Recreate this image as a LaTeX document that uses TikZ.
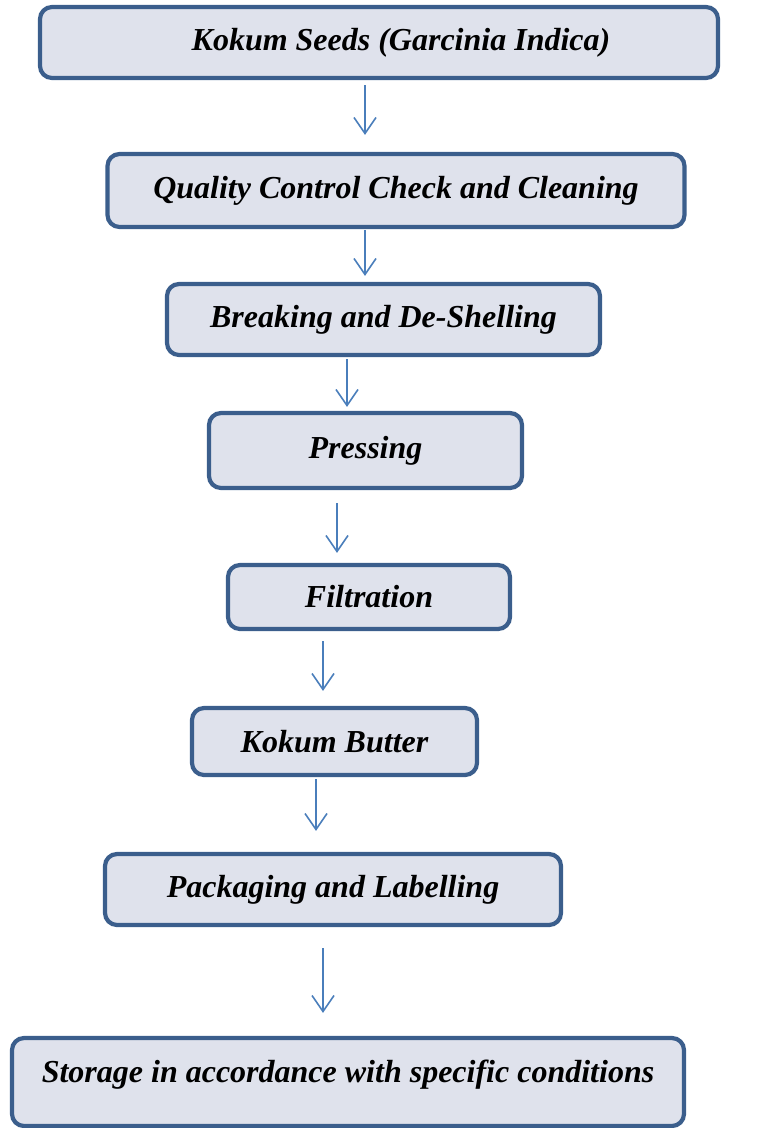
\documentclass[tikz,border=0pt]{standalone}
\usepackage{fontspec}
\setmainfont{Liberation Serif}
\usepackage{xcolor}
\usetikzlibrary{arrows.meta}

\definecolor{boxline}{HTML}{3B5E8C}
\definecolor{boxfill}{HTML}{DFE2EC}
\definecolor{arrowblue}{HTML}{4A7EBB}

\begin{document}
\begin{tikzpicture}[x=1pt,y=-1pt,
    stepbox/.style={draw=boxline, fill=boxfill, line width=4.2pt, rounded corners=12pt,
        inner sep=0pt, font=\fontsize{32}{38}\selectfont\bfseries\itshape},
    flow/.style={draw=arrowblue, line width=1.6pt,
        -{Straight Barb[length=16pt,width=22pt,line width=1.6pt]}}]
    \useasboundingbox (0,0) rectangle (756,1128);

    % process steps
    \node[stepbox, minimum width=678pt, minimum height=71pt] (seeds) at (379,42.5) {\hspace*{44pt}Kokum Seeds (Garcinia Indica)};
    \node[stepbox, minimum width=577pt, minimum height=73pt] (qc) at (396,190.5) {Quality Control Check and Cleaning};
    \node[stepbox, minimum width=433pt, minimum height=71pt] (shell) at (383.5,319.5) {Breaking and De-Shelling};
    \node[stepbox, minimum width=313pt, minimum height=75pt] (press) at (365.5,450.5) {Pressing};
    \node[stepbox, minimum width=282pt, minimum height=64pt] (filter) at (369,597) {Filtration};
    \node[stepbox, minimum width=285pt, minimum height=67pt] (butter) at (334.5,741.5) {Kokum Butter};
    \node[stepbox, minimum width=456pt, minimum height=71pt] (pack) at (333,889.5) {Packaging and Labelling};
    \node[stepbox, minimum width=672pt, minimum height=88pt, text height=24pt, text depth=24pt] (store) at (348,1082) {Storage in accordance with specific conditions};

    % arrows
    \foreach \a/\b/\x/\s/\e in {seeds/qc/365/5/17, qc/shell/365/1/6, shell/press/347/2/4,
        press/filter/337/13/10, filter/butter/323/10/15, butter/pack/316/2/21, pack/store/323/21/23} {
        \draw[flow, shorten <=\s pt, shorten >=\e pt] (\x,0 |- \a.south) -- (\x,0 |- \b.north);
    }

\end{tikzpicture}
\end{document}
